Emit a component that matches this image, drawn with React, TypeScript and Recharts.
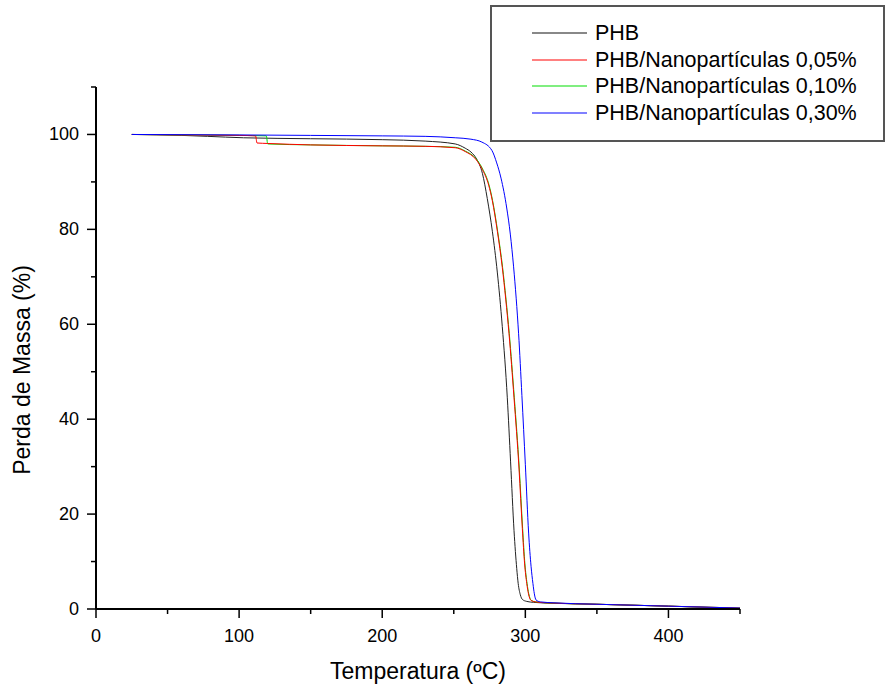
import { LineChart, Line, XAxis, YAxis } from "recharts";

// temperatura (ºC) e massa (%)
const phbTemp = [25, 60, 78, 103, 150, 200, 230, 251, 258, 262, 266, 270, 273.4, 277, 280.4, 283.9, 287.4, 289.7, 292.1, 294, 295, 296.5, 298, 301, 305.8, 320, 350, 400, 450];
const phbMass = [100, 99.8, 99.6, 99.3, 99.1, 98.9, 98.6, 98.0, 97.1, 96.3, 94.8, 91.8, 86.5, 79.5, 71, 59.5, 44.5, 31, 16.5, 8.5, 5.4, 3.0, 2.0, 1.6, 1.4, 1.2, 1.0, 0.6, 0.1];

const np005Temp = [25, 60, 100, 111.5, 112.5, 120, 150, 200, 230, 251, 258, 265.3, 270, 274.4, 276.9, 280.5, 283.9, 286.3, 288.6, 292.1, 295.6, 297.9, 299.5, 301, 302.2, 304, 307, 315, 350, 400, 450];
const np005Mass = [100, 99.9, 99.8, 99.7, 98.2, 98.1, 97.8, 97.6, 97.5, 97.2, 96.4, 94.8, 92.6, 89.3, 86.1, 79.5, 72, 65.3, 58, 44.5, 29.5, 17, 9.5, 5.4, 3.2, 1.8, 1.5, 1.3, 1.0, 0.6, 0.2];

const np010Temp = [25, 60, 100, 119, 120, 150, 200, 230, 251, 258, 265.5, 270.2, 274.6, 277.1, 280.7, 284.1, 286.5, 288.8, 292.3, 295.8, 298.1, 299.7, 301.2, 302.4, 304.2, 307.2, 315, 350, 400, 450];
const np010Mass = [100, 99.9, 99.8, 99.7, 98.0, 97.8, 97.6, 97.5, 97.3, 96.5, 94.9, 92.7, 89.4, 86.1, 79.5, 72, 65.3, 58, 44.5, 29.5, 17, 9.5, 5.4, 3.2, 1.8, 1.5, 1.3, 1.0, 0.6, 0.2];

const np030Temp = [25, 100, 150, 200, 230, 251, 262, 269.6, 276.7, 280, 283, 287, 289.5, 291.8, 293.6, 295.3, 297.6, 300, 302.3, 304, 305.3, 306.3, 307.5, 310.5, 320, 350, 400, 450];
const np030Mass = [100, 99.9, 99.8, 99.7, 99.6, 99.3, 99.0, 98.4, 96.6, 94, 90.8, 84.5, 79, 72.1, 65.5, 58, 45, 30.5, 16, 9, 5.4, 3.2, 1.9, 1.5, 1.3, 1.0, 0.6, 0.2];

const xTicks = [0, 50, 100, 150, 200, 250, 300, 350, 400, 450];
const yTicks = [0, 10, 20, 30, 40, 50, 60, 70, 80, 90, 100, 110];

const seriesNames = [
  "PHB",
  "PHB/Nanopartículas 0,05%",
  "PHB/Nanopartículas 0,10%",
  "PHB/Nanopartículas 0,30%",
];
const seriesColors = ["#222222", "#ff0000", "#00e000", "#0000ff"];
const legendColors = ["#888888", "#ff8080", "#80ee80", "#8080ff"];

const zip = (t: number[], m: number[]) => t.map((v, i) => ({ t: v, m: m[i] }));

const font = '"Liberation Sans", Arial, sans-serif';

function XTick({ x, y, payload }: any) {
  const major = payload.value % 100 === 0;
  return (
    <g>
      <line x1={x} x2={x} y1={y} y2={y + (major ? 9 : 5)} stroke="#000" strokeWidth={1.5} />
      {major && (
        <text x={x} y={y + 33} textAnchor="middle" fontSize={18} fontFamily={font} fill="#000">
          {payload.value}
        </text>
      )}
    </g>
  );
}

function YTick({ x, y, payload }: any) {
  const major = payload.value % 20 === 0;
  return (
    <g>
      <line x1={x - (major ? 9 : 5)} x2={x} y1={y} y2={y} stroke="#000" strokeWidth={1.5} />
      {major && (
        <text x={x - 17} y={y + 6} textAnchor="end" fontSize={18} fontFamily={font} fill="#000">
          {payload.value}
        </text>
      )}
    </g>
  );
}

export default function App() {
  const data = [
    zip(phbTemp, phbMass),
    zip(np005Temp, np005Mass),
    zip(np010Temp, np010Mass),
    zip(np030Temp, np030Mass),
  ];
  const order = [0, 2, 1, 3];

  return (
    <div style={{ position: "absolute", left: 0, top: 0, width: 886, height: 689, background: "#fff", fontFamily: font }}>
      <LineChart width={886} height={689} margin={{ top: 87, right: 146, left: 36, bottom: 0 }}>
        <XAxis
          type="number"
          dataKey="t"
          domain={[0, 450]}
          ticks={xTicks}
          interval={0}
          tickSize={0}
          tickMargin={0}
          tickLine={false}
          tick={<XTick />}
          height={80}
          axisLine={{ stroke: "#000", strokeWidth: 2 }}
          allowDataOverflow
          label={{
            content: () => (
              <text x={418} y={679} textAnchor="middle" fontSize={23} fontFamily={font} fill="#000">
                Temperatura (ºC)
              </text>
            ),
          }}
        />
        <YAxis
          type="number"
          dataKey="m"
          domain={[0, 110]}
          ticks={yTicks}
          interval={0}
          tickSize={0}
          tickMargin={0}
          tickLine={false}
          tick={<YTick />}
          width={60}
          axisLine={{ stroke: "#000", strokeWidth: 2 }}
          allowDataOverflow
          label={{
            content: () => (
              <text
                x={30}
                y={370}
                transform="rotate(-90 30 370)"
                textAnchor="middle"
                fontSize={23}
                fontFamily={font}
                fill="#000"
              >
                Perda de Massa (%)
              </text>
            ),
          }}
        />
        {order.map((i) => (
          <Line
            key={seriesNames[i]}
            data={data[i]}
            dataKey="m"
            name={seriesNames[i]}
            type="monotone"
            stroke={seriesColors[i]}
            strokeWidth={1}
            dot={false}
            activeDot={false}
            isAnimationActive={false}
          />
        ))}
      </LineChart>

      <div
        style={{
          position: "absolute",
          left: 490,
          top: 5,
          width: 391,
          height: 133,
          border: "2px solid #555",
          background: "#fff",
        }}
      >
        {seriesNames.map((name, i) => (
          <div
            key={name}
            style={{
              position: "absolute",
              left: 0,
              top: Math.round(13 + i * 26.7),
              height: 26,
              display: "flex",
              alignItems: "center",
              whiteSpace: "nowrap",
            }}
          >
            <div style={{ width: 55, height: 0, marginLeft: 40, borderTop: `2px solid ${legendColors[i]}` }} />
            <span style={{ marginLeft: 8, fontSize: 21.5, color: "#000" }}>{name}</span>
          </div>
        ))}
      </div>
    </div>
  );
}
